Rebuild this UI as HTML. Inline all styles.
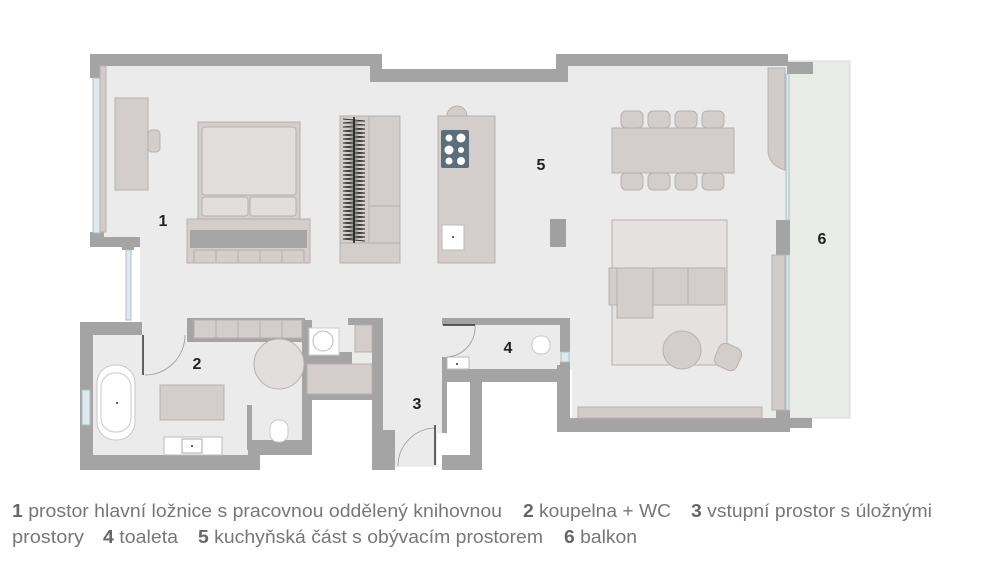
<!DOCTYPE html>
<html><head><meta charset="utf-8"><style>
html,body{margin:0;padding:0;background:#fff;}
svg{display:block;}
text{font-family:"Liberation Sans",Arial,sans-serif;}
</style></head><body>
<svg width="1000" height="585" viewBox="0 0 1000 585" xmlns="http://www.w3.org/2000/svg">
<rect x="788" y="61" width="62" height="357" fill="#e9ebe7" stroke="#d8dbd6"/>
<path d="M104 66 H382 V82 H557 V66 H788 V420 H572 V370 H447 V433 H437 V467 H395 V430 H383 V400 H312 V445 H260 V455 H93 V335 H140 V247 H104 Z" fill="#ebebeb"/>
<g fill="#a4a4a4">
<rect x="90" y="54" width="292" height="12"/>
<rect x="382" y="69" width="185" height="13"/>
<rect x="370" y="54" width="12" height="28"/>
<rect x="556" y="54" width="232" height="12"/>
<rect x="556" y="54" width="12" height="28"/>
<rect x="787" y="62" width="26" height="12"/>
<rect x="90" y="54" width="14" height="24"/>
<rect x="90" y="232" width="14" height="15"/>
<rect x="90" y="237" width="50" height="10"/>
<rect x="122" y="245" width="12" height="5"/>
<rect x="776" y="220" width="14" height="35"/>
<rect x="557" y="418" width="233" height="14"/>
<rect x="776" y="410" width="14" height="22"/>
<rect x="787" y="418" width="25" height="10"/>
<rect x="557" y="365" width="13" height="67"/>
<rect x="442" y="318" width="128" height="7"/>
<rect x="560" y="318" width="10" height="34"/>
<rect x="560" y="362" width="10" height="15"/>
<rect x="442" y="369" width="128" height="13"/>
<rect x="442" y="357" width="5" height="76"/>
<rect x="470" y="375" width="12" height="95"/>
<rect x="442" y="455" width="40" height="15"/>
<rect x="348" y="318" width="35" height="7"/>
<rect x="372" y="318" width="11" height="152"/>
<rect x="302" y="392" width="81" height="8"/>
<rect x="380" y="430" width="15" height="40"/>
<rect x="302" y="320" width="10" height="125"/>
<rect x="302" y="352" width="50" height="12"/>
<rect x="80" y="322" width="13" height="148"/>
<rect x="80" y="322" width="62" height="13"/>
<rect x="80" y="455" width="180" height="15"/>
<rect x="248" y="440" width="64" height="15"/>
<rect x="247" y="405" width="5" height="45"/>
<rect x="187" y="318" width="118" height="24"/>
</g>
<g fill="#dfe8ea" stroke="#a9c0c6" stroke-width="1">
<rect x="93" y="78" width="7" height="155"/>
<rect x="126" y="250" width="5" height="70"/>
<rect x="82" y="390" width="8" height="35"/>
<rect x="786" y="74" width="3" height="146"/>
<rect x="786" y="255" width="3" height="155"/>
<rect x="561" y="352" width="8" height="10"/>
</g>
<g fill="#d1cbca" stroke="#b9b2b1">
<rect x="100" y="66" width="6" height="166"/>
<path d="M768 68 H785 V170 Q768 165 768 150 Z"/>
<rect x="772" y="255" width="13" height="155"/>
<rect x="578" y="407" width="184" height="11"/>
</g>
<g fill="#d3cdcc" stroke="#b7b0af" stroke-width="1">
<rect x="115" y="98" width="33" height="92"/>
<rect x="148" y="130" width="12" height="22" rx="4"/>
<rect x="198" y="122" width="102" height="97"/>
<rect x="202" y="127" width="94" height="68" rx="3" fill="#e2dedd"/>
<rect x="202" y="197" width="46" height="19" rx="3" fill="#e2dedd"/>
<rect x="250" y="197" width="46" height="19" rx="3" fill="#e2dedd"/>
<rect x="187" y="219" width="123" height="44"/>
<rect x="340" y="116" width="60" height="147"/>
<line x1="369" y1="116" x2="369" y2="243"/>
<line x1="369" y1="206" x2="400" y2="206"/>
<line x1="340" y1="243" x2="400" y2="243"/>
<path d="M447 116 A10 10 0 0 1 467 116 Z"/>
<rect x="438" y="116" width="57" height="147"/>
<rect x="612" y="128" width="122" height="45"/>
<rect x="612" y="220" width="115" height="145" fill="#e5e1e1"/>
<rect x="609" y="268" width="116" height="37"/>
<rect x="617" y="268" width="36" height="50"/>
<line x1="653" y1="268" x2="653" y2="305"/>
<line x1="688" y1="268" x2="688" y2="305"/>
<circle cx="682" cy="350" r="19"/>
<rect x="716" y="345" width="24" height="24" rx="7" transform="rotate(25 728 357)"/>
<rect x="307" y="364" width="65" height="30"/>
<rect x="355" y="325" width="17" height="27"/>
<circle cx="279" cy="364" r="25" fill="#e2dedd"/>
<rect x="160" y="385" width="64" height="35"/>
<rect x="550" y="219" width="16" height="28" fill="#a0a0a0" stroke="none"/>
</g>
<rect x="190" y="230" width="117" height="18" fill="#a6a6a6"/>
<g fill="#d3cdcc" stroke="#b7b0af">
<rect x="194" y="250" width="22" height="13"/><rect x="216" y="250" width="22" height="13"/><rect x="238" y="250" width="22" height="13"/><rect x="260" y="250" width="22" height="13"/><rect x="282" y="250" width="22" height="13"/>
<rect x="194" y="320" width="22" height="18"/><rect x="216" y="320" width="22" height="18"/><rect x="238" y="320" width="22" height="18"/><rect x="260" y="320" width="22" height="18"/><rect x="282" y="320" width="20" height="18"/>
</g>
<g fill="#d3cdcc" stroke="#b7b0af">
<rect x="621" y="111" width="22" height="17" rx="5"/><rect x="648" y="111" width="22" height="17" rx="5"/><rect x="675" y="111" width="22" height="17" rx="5"/><rect x="702" y="111" width="22" height="17" rx="5"/>
<rect x="621" y="173" width="22" height="17" rx="5"/><rect x="648" y="173" width="22" height="17" rx="5"/><rect x="675" y="173" width="22" height="17" rx="5"/><rect x="702" y="173" width="22" height="17" rx="5"/>
</g>
<path d="M343 119 L365 121 L343 123 L365 125 L343 127 L365 129 L343 131 L365 133 L343 135 L365 137 L343 139 L365 141 L343 143 L365 145 L343 147 L365 149 L343 151 L365 153 L343 155 L365 157 L343 159 L365 161 L343 163 L365 165 L343 167 L365 169 L343 171 L365 173 L343 175 L365 177 L343 179 L365 181 L343 183 L365 185 L343 187 L365 189 L343 191 L365 193 L343 195 L365 197 L343 199 L365 201 L343 203 L365 205 L343 207 L365 209 L343 211 L365 213 L343 215 L365 217 L343 219 L365 221 L343 223 L365 225 L343 227 L365 229 L343 231 L365 233 L343 235 L365 237 L343 239 L365 241" fill="none" stroke="#333" stroke-width="1"/>
<line x1="354" y1="117" x2="354" y2="243" stroke="#111" stroke-width="1.5"/>
<rect x="441" y="130" width="28" height="38" rx="2" fill="#5b6f7b"/>
<g fill="#fff"><circle cx="449" cy="138" r="3.5"/><circle cx="461" cy="138" r="4.5"/><circle cx="449" cy="150" r="4.5"/><circle cx="461" cy="150" r="3"/><circle cx="449" cy="161" r="3.5"/><circle cx="461" cy="161" r="4"/></g>
<rect x="442" y="225" width="22" height="25" fill="#fff" stroke="#bbb"/>
<circle cx="453" cy="237" r="1" fill="#333"/>
<rect x="164" y="437" width="58" height="18" fill="#fff" stroke="#bbb"/>
<rect x="182" y="439" width="20" height="14" fill="#fff" stroke="#aaa"/>
<circle cx="192" cy="446" r="1" fill="#333"/>
<rect x="447" y="357" width="22" height="12" fill="#fff" stroke="#bbb"/>
<circle cx="457" cy="364" r="1" fill="#333"/>
<rect x="97" y="365" width="38" height="75" rx="18" fill="#fff" stroke="#c9c9c9"/>
<rect x="101" y="373" width="30" height="59" rx="14" fill="#fff" stroke="#c9c9c9"/>
<circle cx="117" cy="403" r="1" fill="#333"/>
<rect x="270" y="420" width="18" height="22" rx="8" fill="#fff" stroke="#c9c9c9"/>
<rect x="532" y="336" width="18" height="18" rx="8" fill="#fff" stroke="#c9c9c9"/>
<rect x="309" y="328" width="30" height="27" fill="#fff" stroke="#ccc"/>
<circle cx="323" cy="341" r="10" fill="#fff" stroke="#bbb"/>
<g fill="none" stroke="#999" stroke-width="0.8">
<path d="M145 375 A40 40 0 0 0 185 335"/>
<path d="M398 466 A38 38 0 0 1 435 428"/>
<path d="M447 357 A30 30 0 0 0 475 325"/>
</g>
<g stroke="#333" stroke-width="1.5">
<line x1="143" y1="335" x2="143" y2="375"/>
<line x1="435" y1="425" x2="435" y2="465"/>
<line x1="443" y1="325" x2="475" y2="325"/>
</g>
<g font-weight="bold" font-size="16" fill="#222" text-anchor="middle">
<text x="163" y="226">1</text>
<text x="541" y="170">5</text>
<text x="822" y="244">6</text>
<text x="197" y="369">2</text>
<text x="417" y="409">3</text>
<text x="508" y="353">4</text>
</g>
<g font-size="18" fill="#777">
<text x="12" y="517" textLength="490" lengthAdjust="spacingAndGlyphs"><tspan font-weight="bold" fill="#666">1</tspan> prostor hlavní ložnice s pracovnou oddělený knihovnou</text>
<text x="523" y="517" textLength="148" lengthAdjust="spacingAndGlyphs"><tspan font-weight="bold" fill="#666">2</tspan> koupelna + WC</text>
<text x="691" y="517" textLength="241" lengthAdjust="spacingAndGlyphs"><tspan font-weight="bold" fill="#666">3</tspan> vstupní prostor s úložnými</text>
<text x="12" y="543" textLength="72" lengthAdjust="spacingAndGlyphs">prostory</text>
<text x="103" y="543" textLength="75" lengthAdjust="spacingAndGlyphs"><tspan font-weight="bold" fill="#666">4</tspan> toaleta</text>
<text x="198" y="543" textLength="345" lengthAdjust="spacingAndGlyphs"><tspan font-weight="bold" fill="#666">5</tspan> kuchyňská část s obývacím prostorem</text>
<text x="564" y="543" textLength="73" lengthAdjust="spacingAndGlyphs"><tspan font-weight="bold" fill="#666">6</tspan> balkon</text>
</g>
</svg>
</body></html>
